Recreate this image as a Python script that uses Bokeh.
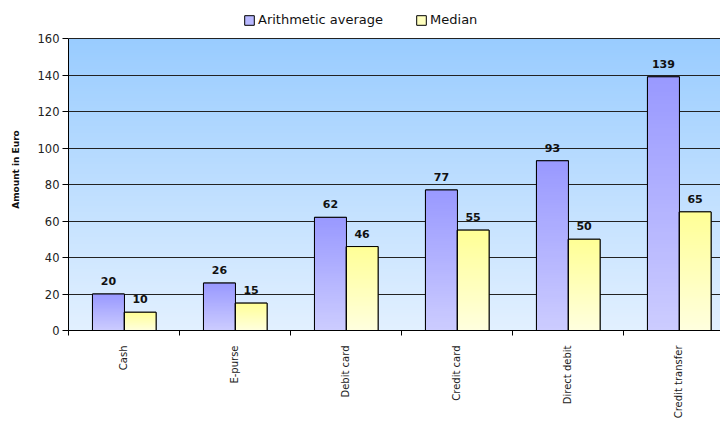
import math
import numpy as np
from bokeh.plotting import figure
from bokeh.models import Range1d, FixedTicker, Legend, LegendItem, ColumnDataSource
from bokeh.core.properties import value
from bokeh.embed import file_html
from bokeh.resources import INLINE

# Payment instruments and the amounts per transaction (euro)
categories = ["Cash", "E-purse", "Debit card", "Credit card", "Direct debit", "Credit transfer"]
average = [20, 26, 62, 77, 93, 139]
median = [10, 15, 46, 55, 50, 65]
y_ticks = [0, 20, 40, 60, 80, 100, 120, 140, 160]

FONT = "DejaVu Sans"
BAR_W = 0.288
AVG_OFF = -0.14
MED_OFF = 0.145
Y_MAX = 160

# the frame reaches above the value axis to hold the legend
PX_PER_UNIT = 292 / Y_MAX
TOP_PAD = 30
y_end = Y_MAX + TOP_PAD / PX_PER_UNIT


def rgba(r, g, b, a=255):
    return (a << 24) | (b << 16) | (g << 8) | r


def vertical_gradient(top, bottom, n=64):
    # rows go bottom -> top in image_rgba
    img = np.empty((n, 2), dtype=np.uint32)
    for i, f in enumerate(np.linspace(0, 1, n)):
        c = [int(round(bottom[k] + (top[k] - bottom[k]) * f)) for k in range(3)]
        img[i, :] = rgba(*c)
    return img


x_end = 5.874
p = figure(width=720, height=421, output_backend="svg", toolbar_location=None,
           x_range=Range1d(0, x_end), y_range=Range1d(0, y_end),
           min_border_left=68, min_border_right=0, min_border_top=8, min_border_bottom=91)
p.background_fill_color = "white"
p.border_fill_color = "white"
p.outline_line_color = None

# plot-area background: blue fading to pale blue
p.image_rgba(image=[vertical_gradient((153, 204, 255), (226, 240, 255), 128)],
             x=0, y=0, dw=x_end, dh=Y_MAX, level="image")

centers = np.arange(len(categories)) + 0.5
avg_x = centers + AVG_OFF
med_x = centers + MED_OFF

avg_src = ColumnDataSource(dict(x=list(avg_x), top=average, lab=[str(v) for v in average]))
med_src = ColumnDataSource(dict(x=list(med_x), top=median, lab=[str(v) for v in median]))

avg_fill = p.vbar(x="x", top="top", width=BAR_W, source=avg_src,
                  fill_color="#b8b8ff", line_color="black", line_width=1)
med_fill = p.vbar(x="x", top="top", width=BAR_W, source=med_src,
                  fill_color="#ffffbe", line_color="black", line_width=1)

avg_grad = vertical_gradient((153, 153, 255), (204, 204, 255))
med_grad = vertical_gradient((255, 255, 150), (255, 255, 222))
for xs, vals, grad in ((avg_x, average, avg_grad), (med_x, median, med_grad)):
    p.image_rgba(image=[grad] * len(vals), x=[float(v) - BAR_W / 2 for v in xs],
                 y=[0] * len(vals), dw=[BAR_W] * len(vals), dh=list(vals))

# bar outlines on top of the gradients
p.vbar(x="x", top="top", width=BAR_W, source=avg_src, fill_alpha=0, line_color="black", line_width=1)
p.vbar(x="x", top="top", width=BAR_W, source=med_src, fill_alpha=0, line_color="black", line_width=1)

# value labels above each bar
for src in (avg_src, med_src):
    p.text(x="x", y="top", text="lab", source=src, text_align="center",
           text_baseline="alphabetic", y_offset=-13, text_font=value(FONT),
           text_font_size="11px", text_font_style="bold", text_color="#111111")

# axes
p.yaxis.ticker = FixedTicker(ticks=y_ticks)
p.yaxis.bounds = (0, Y_MAX)
p.yaxis.axis_label = "Amount in Euro"
p.yaxis.axis_label_text_font = FONT
p.yaxis.axis_label_text_font_size = "9px"
p.yaxis.axis_label_text_font_style = "bold"
p.yaxis.axis_label_text_color = "#111111"
p.yaxis.axis_label_standoff = 14
p.yaxis.major_label_text_font = FONT
p.yaxis.major_label_text_font_size = "11.5px"
p.yaxis.major_label_text_color = "#222222"
p.yaxis.major_tick_in = 0
p.yaxis.major_tick_out = 6
p.yaxis.minor_tick_line_color = None
p.yaxis.axis_line_color = "black"
p.yaxis.major_label_standoff = 3

p.xaxis.ticker = FixedTicker(ticks=[float(c) for c in centers],
                             minor_ticks=list(range(0, len(categories) + 1)))
p.xaxis.major_label_overrides = {float(c): name for c, name in zip(centers, categories)}
p.xaxis.major_label_orientation = math.pi / 2
p.xaxis.major_label_text_font = FONT
p.xaxis.major_label_text_font_size = "10px"
p.xaxis.major_label_text_color = "#222222"
p.xaxis.major_tick_line_color = None
p.xaxis.major_tick_in = 0
p.xaxis.major_tick_out = 0
p.xaxis.minor_tick_in = 0
p.xaxis.minor_tick_out = 5
p.xaxis.minor_tick_line_color = "black"
p.xaxis.axis_line_color = "black"
p.xaxis.major_label_standoff = 10

p.xgrid.grid_line_color = None
p.ygrid.grid_line_color = "#222222"
p.ygrid.grid_line_width = 1

legend = Legend(items=[LegendItem(label="Arithmetic average", renderers=[avg_fill]),
                       LegendItem(label="Median", renderers=[med_fill])],
                orientation="horizontal", location=(175, 303))
legend.label_text_font = FONT
legend.label_text_font_size = "13px"
legend.label_text_color = "#111111"
legend.label_height = 14
legend.glyph_width = 12
legend.glyph_height = 12
legend.label_standoff = 3
legend.spacing = 32
legend.padding = 0
legend.margin = 0
legend.border_line_color = None
legend.background_fill_alpha = 0
p.add_layout(legend)

open("out.html", "w").write(file_html(p, INLINE))
